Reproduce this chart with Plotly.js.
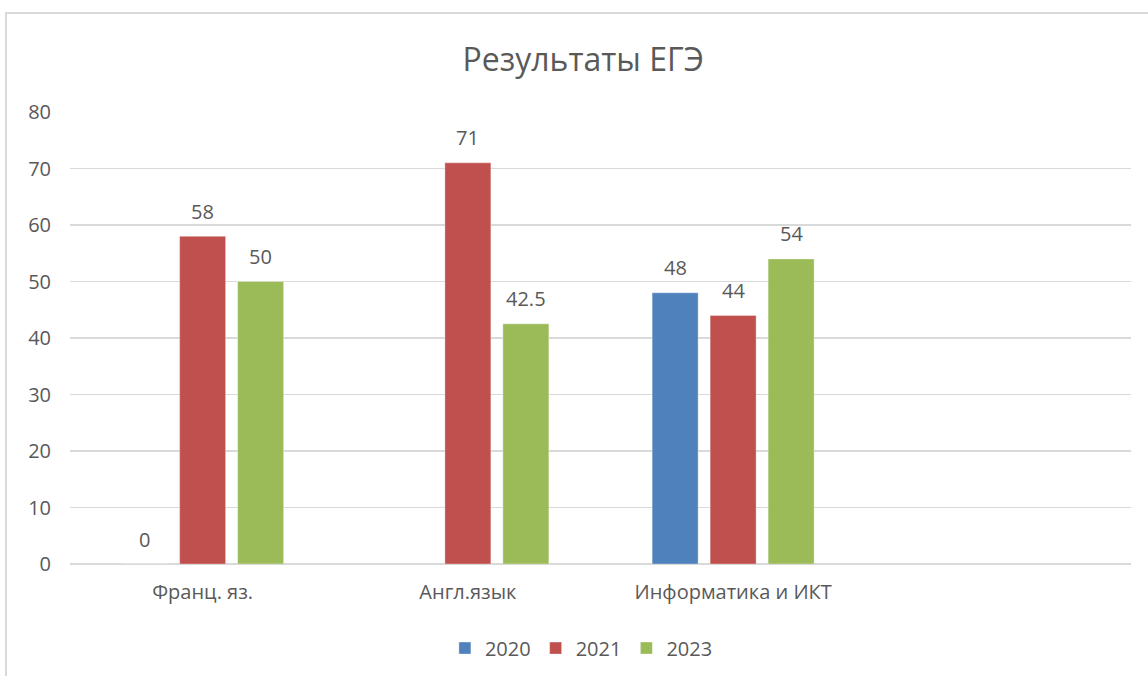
<!DOCTYPE html>
<html>
<head>
<meta charset="utf-8">
<script src="https://cdn.plot.ly/plotly-3.0.1.min.js"></script>
<style>
  html, body { margin: 0; padding: 0; background: #ffffff; }
  #wrap { position: relative; width: 1148px; height: 676px; }
  #chart { width: 1148px; height: 676px; }
  #frame { position: absolute; left: 5px; top: 12px; right: 0; bottom: 0;
           border-top: 2px solid #d9d9d9; border-left: 2px solid #d9d9d9; pointer-events: none; }
</style>
</head>
<body>
<div id="wrap">
  <div id="chart"></div>
  <div id="frame"></div>
</div>
<script>
// ---- data ----
const categories = ["Франц. яз.", "Англ.язык", "Информатика и ИКТ"];
const seriesNames = ["2020", "2021", "2023"];
const values2020 = [0, null, 48];
const values2021 = [58, 71, 44];
const values2023 = [50, 42.5, 54];
const seriesColors = ["#4F81BD", "#C0504D", "#9BBB59"];
const yTicks = [0, 10, 20, 30, 40, 50, 60, 70, 80];

const allValues = [values2020, values2021, values2023];
const FONT = "'Open Sans', 'DejaVu Sans', sans-serif";
const TXT = "#595959";

const traces = allValues.map((vals, i) => ({
  type: "bar",
  name: seriesNames[i],
  x: categories,
  y: vals,
  marker: { color: seriesColors[i], line: { color: "rgba(255,255,255,0.35)", width: 1 } },
  hoverinfo: "skip"
}));

// data labels: one per non-missing value, offset to sit above each bar of the group
const barStep = 58; // px between bar centres within a group
const annotations = [];
allValues.forEach((vals, i) => {
  vals.forEach((v, j) => {
    if (v === null) return;
    annotations.push({
      x: categories[j], y: v, xref: "x", yref: "y",
      text: String(v), showarrow: false,
      xshift: (i - 1) * barStep, yshift: 25, yanchor: "middle",
      font: { family: FONT, size: 20, color: TXT }
    });
  });
});

const layout = {
  width: 1148, height: 676,
  margin: { l: 70, r: 17, t: 112, b: 112, autoexpand: false },
  paper_bgcolor: "#ffffff", plot_bgcolor: "#ffffff",
  font: { family: FONT, color: TXT },
  title: {
    text: "Результаты ЕГЭ",
    font: { family: FONT, size: 32, color: TXT },
    xref: "container", x: 0.508, xanchor: "center",
    yref: "container", y: 0.911, yanchor: "middle"
  },
  barmode: "group",
  bargap: 0.344,
  bargroupgap: 0.207,
  xaxis: {
    type: "category",
    range: [-0.5, 3.5],
    automargin: false,
    showgrid: false, showline: false, zeroline: false,
    ticks: "", ticklabelstandoff: 14,
    tickfont: { family: FONT, size: 20, color: TXT },
    fixedrange: true
  },
  yaxis: {
    range: [0, 80],
    automargin: false,
    tickvals: yTicks,
    showgrid: true, gridcolor: "#d9d9d9", gridwidth: 1.5,
    zeroline: true, zerolinecolor: "#d9d9d9", zerolinewidth: 1.5,
    showline: false, ticks: "", ticklabelstandoff: 18,
    tickfont: { family: FONT, size: 20, color: TXT },
    fixedrange: true
  },
  showlegend: true,
  legend: {
    orientation: "h",
    x: 0.482, xanchor: "center",
    y: -0.186, yanchor: "middle",
    font: { family: FONT, size: 20, color: TXT },
    traceorder: "normal",
    itemclick: false, itemdoubleclick: false
  },
  annotations: annotations
};

Plotly.newPlot("chart", traces, layout, { displayModeBar: false, staticPlot: true });
</script>
</body>
</html>
